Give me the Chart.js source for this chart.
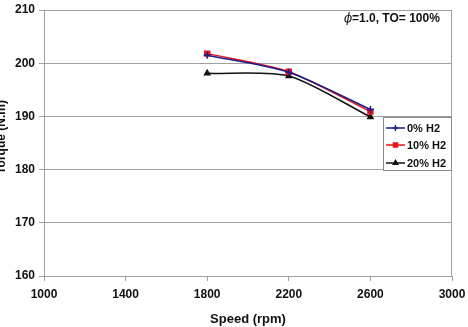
<!DOCTYPE html>
<html>
<head>
<meta charset="utf-8">
<script src="https://cdn.jsdelivr.net/npm/chart.js@4"></script>
<style>
html,body{margin:0;padding:0;background:#fff;}
#wrap{width:468px;height:327px;position:relative;}
</style>
</head>
<body>
<div id="wrap"><canvas id="c" width="468" height="327"></canvas></div>
<script>
const speeds = [1800, 2200, 2600];
const torque0 = [201.5, 198.3, 191.3];
const torque10 = [201.8, 198.4, 190.9];
const torque20 = [198.1, 197.6, 189.9];
const seriesLabels = ['0% H2', '10% H2', '20% H2'];
const xTicks = [1000, 1400, 1800, 2200, 2600, 3000];
const yTicks = [160, 170, 180, 190, 200, 210];
const annotationText = '=1.0, TO= 100%';
const xTitle = 'Speed (rpm)';
const yTitle = 'Torque (N.m)';

const FONT = '"Liberation Sans", Arial, sans-serif';
const colors = ['#1c1c8a', '#e8141c', '#111111'];
const markers = ['cross', 'rect', 'triangle'];
const mSizes = [3.5, 3.5, 3];

function pts(ys){ return speeds.map((x,i)=>({x:x,y:ys[i]})); }
const seriesData = [torque0, torque10, torque20];

const framePlugin = {
  id:'frame',
  beforeDatasetsDraw(chart){
    const a = chart.chartArea, ctx = chart.ctx;
    ctx.save();
    ctx.strokeStyle = '#a0a0a0'; ctx.lineWidth = 1;
    ctx.beginPath();
    ctx.moveTo(a.left+0.5, a.top+0.5); ctx.lineTo(a.right-0.5, a.top+0.5); ctx.lineTo(a.right-0.5, a.bottom);
    ctx.stroke();
    ctx.restore();
  },
  afterDraw(chart){
    const ctx = chart.ctx, a = chart.chartArea;
    ctx.save();
    ctx.fillStyle = '#111';
    ctx.textBaseline = 'middle';
    ctx.font = 'italic 12px "DejaVu Serif", serif';
    ctx.fillText('\u03D5', 344, 19);
    ctx.font = 'bold 12px ' + FONT;
    ctx.fillText(annotationText, 352, 19);
    ctx.translate(2, 137);
    ctx.rotate(-Math.PI/2);
    ctx.textAlign = 'center';
    ctx.font = 'bold 12px ' + FONT;
    ctx.fillText(yTitle, 0, 0);
    ctx.restore();
    // legend
    ctx.save();
    const lx = 383, ly = 117, lw = a.right - lx, lh = 53;
    ctx.fillStyle = '#fff';
    ctx.fillRect(lx, ly, lw, lh);
    ctx.strokeStyle = '#8a8a8a'; ctx.lineWidth = 1;
    ctx.strokeRect(lx+0.5, ly+0.5, lw-1, lh);
    const rows = [128, 145, 163];
    chart.data.datasets.forEach((ds,i)=>{
      const y = rows[i];
      ctx.strokeStyle = ds.borderColor; ctx.fillStyle = ds.borderColor; ctx.lineWidth = 1.5;
      ctx.beginPath(); ctx.moveTo(386, y); ctx.lineTo(405, y); ctx.stroke();
      Chart.helpers.drawPoint(ctx, {pointStyle: ds.pointStyle, radius: ds.pointRadius * 0.85, rotation:0, borderWidth: ds.pointBorderWidth}, 395.5, y);
      ctx.fillStyle = '#111';
      ctx.font = 'bold 11px ' + FONT;
      ctx.textBaseline = 'middle';
      ctx.fillText(ds.label, 407, y+0.5);
    });
    ctx.restore();
  }
};

new Chart(document.getElementById('c'), {
  type: 'line',
  data: {
    datasets: seriesData.map((d,i)=>({
      label: seriesLabels[i],
      data: pts(d),
      borderColor: colors[i],
      backgroundColor: colors[i],
      pointBackgroundColor: colors[i],
      pointBorderColor: colors[i],
      pointStyle: markers[i],
      pointRadius: mSizes[i],
      pointBorderWidth: 1.5,
      borderWidth: 1.5,
      tension: 0.25,
      fill: false
    }))
  },
  options: {
    responsive: false,
    animation: false,
    devicePixelRatio: 1,
    layout: { padding: { top: 10, right: 16, left: 0, bottom: 0 } },
    plugins: { legend: { display: false }, tooltip: { enabled: false } },
    scales: {
      x: {
        type: 'linear', min: 1000, max: 3000,
        afterBuildTicks(s){ s.ticks = xTicks.map(v=>({value:v})); },
        afterFit(s){ s.height = 51; s.paddingLeft = 0; s.paddingRight = 0; },
        grid: { display: true, drawOnChartArea: false, color: '#a0a0a0', tickLength: 5 },
        border: { color: '#a0a0a0' },
        ticks: { color: '#111', font: { family: FONT, size: 12, weight: 'bold' }, padding: 6, maxRotation: 0, callback: v => String(v) },
        title: { display: true, text: xTitle, color: '#111', font: { family: FONT, size: 13, weight: 'bold' }, padding: { top: 2, bottom: 0 } }
      },
      y: {
        type: 'linear', min: 160, max: 210,
        afterBuildTicks(s){ s.ticks = yTicks.map(v=>({value:v})); },
        afterFit(s){ s.width = 44; s.paddingTop = 0; s.paddingBottom = 0; },
        grid: { color: '#a0a0a0', tickLength: 5 },
        border: { color: '#a0a0a0' },
        ticks: { color: '#111', font: { family: FONT, size: 12, weight: 'bold' }, padding: 4, callback: v => String(v) }
      }
    }
  },
  plugins: [framePlugin]
});
</script>
</body>
</html>
